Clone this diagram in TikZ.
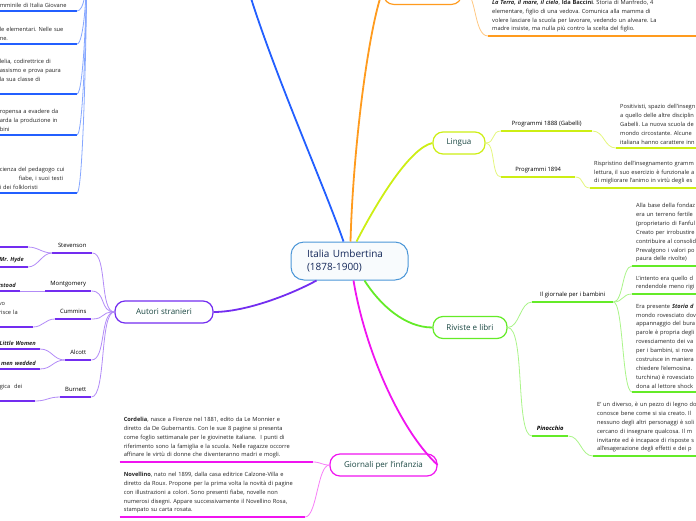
\documentclass[tikz,border=0pt]{standalone}
\usepackage{fontspec}
\setmainfont{Open Sans}
\usepackage{tikz}
\definecolor{mmblue}{RGB}{35,95,255}
\definecolor{mmorange}{RGB}{255,155,30}
\definecolor{mmlime}{RGB}{205,238,20}
\definecolor{mmgreen}{RGB}{100,235,40}
\definecolor{mmmagenta}{RGB}{240,20,240}
\definecolor{mmpurple}{RGB}{115,45,240}
\definecolor{mmcentral}{RGB}{75,150,215}
\definecolor{mmnavy}{RGB}{20,40,90}
\definecolor{mmteal}{RGB}{25,70,65}
\definecolor{mmgray}{RGB}{35,35,35}
\frenchspacing

\begin{document}
\begin{tikzpicture}[x=1pt, y=-1pt,
    central/.style={draw=mmcentral, fill=mmcentral!4, line width=1pt, rounded corners=13pt,
        minimum width=117pt, minimum height=38pt, inner xsep=16pt, text width=85pt, align=left,
        text=mmnavy, font=\fontsize{10}{13}\selectfont},
    topic/.style={draw=#1, line width=1.2pt, rounded corners=10pt, minimum height=22pt,
        text=mmteal, font=\fontsize{8}{10}\selectfont},
    branch/.style={draw=#1, line width=1.8pt},
    twig/.style={draw=#1!55, line width=0.8pt},
    lbl/.style={anchor=south west, inner xsep=2pt, inner ysep=4pt, text depth=1.2pt,
        font=\fontsize{5.9}{7}\selectfont, text=black,
        append after command={(\tikzlastnode.south west) edge[draw=#1, line width=1.6pt] (\tikzlastnode.south east)}},
    blk/.style={anchor=south west, inner xsep=4pt, inner ysep=3.5pt, align=left,
        font=\fontsize{5.7}{8.9}\selectfont, text=mmgray,
        append after command={(\tikzlastnode.south west) edge[draw=#1, line width=1.6pt] (\tikzlastnode.south east)}},
    cut/.style={blk=#1, anchor=south east},
]
    \useasboundingbox (0,0) rectangle (696,520);

    % central topic and main topics
    \node[central] (italia) at (349.5,261) {Italia Umbertina\\(1878-1900)};
    \node[topic=mmlime, minimum width=52pt] (lingua) at (459,143) {Lingua};
    \node[topic=mmgreen, minimum width=74pt] (riviste) at (470,327.5) {Riviste e libri};
    \node[topic=mmmagenta, minimum width=107pt] (giornali) at (383.5,465) {Giornali per l'infanzia};
    \node[topic=mmpurple, minimum width=98pt] (autori) at (164,312) {Autori stranieri};
    \node[topic=mmorange, minimum width=78pt, minimum height=30pt, anchor=south west] (storia) at (383,5) {};
    \coordinate (bluetopic) at (244,-25);
    \coordinate (bluesub) at (87,-40);

    % blue column, cut on the left
    \node[cut=mmblue, text width=73pt] (femminile) at (77,11) {mminile di Italia Giovane};
    \node[cut=mmblue, text width=73pt] (elementari) at (77,44) {le elementari. Nelle sue\\ne.};
    \node[cut=mmblue, text width=73pt] (codirettrice) at (77,94) {lelia, codirettrice di\\assismo e prova paura\\la sua classe di\\\mbox{}};
    \node[cut=mmblue, text width=73pt] (evadere) at (77,135) {ropensa a evadere da\\arda la produzione in\\bini};
    \node[cut=mmblue, text width=73pt] (folkloristi) at (77,193) {cienza del pedagogo cui\\\hspace*{19pt}fiabe, i suoi testi\\i dei folkloristi};

    % autori stranieri
    \node[lbl=mmpurple, minimum width=40pt] (stevenson) at (52,253) {Stevenson};
    \node[lbl=mmpurple, minimum width=46pt] (montgomery) at (45,291) {Montgomery};
    \node[lbl=mmpurple, minimum width=36pt] (cummins) at (55,319) {Cummins};
    \node[lbl=mmpurple, minimum width=26pt] (alcott) at (65,360) {Alcott};
    \node[lbl=mmpurple, minimum width=31pt] (burnett) at (60,397) {Burnett};
    \node[cut=mmpurple, text width=25pt] (jekyll) at (28,247) {};
    \node[cut=mmpurple, text width=25pt, align=right] (hyde) at (28,267) {\bfseries\itshape Mr. Hyde};
    \node[cut=mmpurple, text width=20pt, align=right] (misunderstood) at (20,291) {\bfseries\itshape rstood};
    \node[cut=mmpurple, text width=30pt] (cumtxt) at (33,327) {vo\\risce la\\\mbox{}};
    \node[cut=mmpurple, text width=46pt, align=right] (women) at (40,349) {\bfseries\itshape Little Women};
    \node[cut=mmpurple, text width=46pt, align=right] (wedded) at (40,369) {\bfseries\itshape men wedded};
    \node[cut=mmpurple, text width=31pt] (burtxt) at (35,401) {gica\ \ dei\\\mbox{}};

    % giornali per l'infanzia
    \node[cut=mmmagenta, text width=185pt] (cordelia) at (313,462) {\textbf{Cordelia}, nasce a Firenze nel 1881, edito da Le Monnier e\\diretto da De Gubernantis. Con le sue 8 pagine si presenta\\come foglio settimanale per le giovinette italiane.\ \ I punti di\\riferimento sono la famiglia e la scuola. Nelle ragazze occorre\\affinare le virtù di donne che diventeranno madri e mogli.};
    \node[cut=mmmagenta, text width=177pt] (novellino) at (305,517) {\textbf{Novellino}, nato nel 1899, dalla casa editrice Calzone-Villa e\\diretto da Roux. Propone per la prima volta la novità di pagine\\con illustrazioni a colori. Sono presenti fiabe, novelle non\\numerosi disegni. Appare successivamente il Novellino Rosa,\\stampato su carta rosata.};

    % storia (orange)
    \node[blk=mmorange, text width=205pt] (baccini) at (488,36) {\textbf{\textit{La Terra, il mare, il cielo}}, \textbf{Ida Baccini}. Storia di Manfredo, 4\\elementare, figlio di una vedova. Comunica alla mamma di\\volere lasciare la scuola per lavorare, vedendo un alveare. La\\madre insiste, ma nulla più contro la scelta del figlio.};

    % lingua
    \node[lbl=mmlime, minimum width=91pt] (gabelli) at (501,131) {Programmi 1888 (Gabelli)};
    \node[lbl=mmlime, minimum width=74pt] (prog94) at (501,177) {Programmi 1894};
    \node[blk=mmlime, text width=100pt] (positivisti) at (616,148) {Positivisti, spazio dell'insegn\\a quello delle altre disciplin\\Gabelli. La nuova scuola de\\mondo circostante. Alcune\\italiana hanno carattere inn};
    \node[blk=mmlime, text width=110pt] (rispristino) at (590,188) {Rispristino dell'insegnamento gramm\\lettura, il suo esercizio è funzionale a\\di migliorare l'animo in virtù degli es};

    % riviste e libri
    \node[lbl=mmgreen, minimum width=81pt] (giornale) at (532,302) {Il giornale per i bambini};
    \node[lbl=mmgreen, minimum width=36pt] (pinocchio) at (532,436) {\bfseries\itshape Pinocchio};
    \node[blk=mmgreen, text width=100pt] (fondazione) at (632,266) {Alla base della fondaz\\era un terreno fertile\\(proprietario di Fanful\\Creato per irrobustire\\contribuire al consolid\\Prevalgono i valori po\\paura delle rivolte)};
    \node[blk=mmgreen, text width=100pt] (intento) at (632,294) {L'intento era quello d\\rendendole meno rigi};
    \node[blk=mmgreen, text width=100pt] (rovesciato) at (632,392) {Era presente \textbf{\textit{Storia d}}\\mondo rovesciato dov\\appannaggio del bura\\parole è propria degli\\rovesciamento dei va\\per i bambini, si rove\\costruisce in maniera\\chiedere l'elemosina.\\turchina) è rovesciato\\dona al lettore shock};
    \node[blk=mmgreen, text width=110pt] (diverso) at (593,456) {E' un diverso, è un pezzo di legno do\\conosce bene come si sia creato. Il\\nessuno degli altri personaggi è soli\\cercano di insegnare qualcosa. Il m\\invitante ed è incapace di risposte s\\all'esagerazione degli effetti e dei p};

    % main branches
    \draw[branch=mmblue] ([xshift=-6pt]italia.north) .. controls (322,180) and (268,60) .. (bluetopic);
    \draw[branch=mmorange] ([xshift=1pt]italia.north) .. controls (353,150) and (368,30) .. (storia.west);
    \draw[branch=mmlime] ([xshift=7pt]italia.north) .. controls (378,200) and (410,148) .. (lingua.west);
    \draw[branch=mmgreen] ([xshift=15pt]italia.south) .. controls (380,305) and (405,327.5) .. (riviste.west);
    \draw[branch=mmmagenta] ([xshift=4pt]italia.south) .. controls (365,350) and (400,430) .. (giornali.east);
    \draw[branch=mmpurple] ([xshift=-33pt]italia.south) .. controls (290,295) and (245,312) .. (autori.east);

    % blue twigs
    \foreach \n in {femminile,elementari,codirettrice,evadere,folkloristi}
        \draw[twig=mmblue] (\n.south east) .. controls +(7,0) and +(0,30) .. (bluesub);

    % orange twig
    \draw[twig=mmorange] (storia.east) .. controls +(15,0) and +(-15,0) .. (baccini.south west);

    % lingua twigs
    \draw[twig=mmlime] (lingua.east) .. controls +(10,0) and +(-10,0) .. (gabelli.south west);
    \draw[twig=mmlime] (lingua.east) .. controls +(10,0) and +(-10,0) .. (prog94.south west);
    \draw[twig=mmlime] (gabelli.south east) .. controls +(12,0) and +(-12,0) .. (positivisti.south west);
    \draw[twig=mmlime] (prog94.south east) .. controls +(9,0) and +(-9,0) .. (rispristino.south west);

    % riviste twigs
    \draw[twig=mmgreen] (riviste.east) .. controls +(12,0) and +(-12,0) .. (giornale.south west);
    \draw[twig=mmgreen] (riviste.east) .. controls +(18,0) and +(-17,0) .. (pinocchio.south west);
    \foreach \n in {fondazione,intento,rovesciato}
        \draw[twig=mmgreen] (giornale.south east) .. controls +(10,0) and +(-10,0) .. (\n.south west);
    \draw[twig=mmgreen] (pinocchio.south east) .. controls +(12,0) and +(-12,0) .. (diverso.south west);

    % giornali twigs
    \draw[twig=mmmagenta] (giornali.west) .. controls +(-8,0) and +(8,0) .. (cordelia.south east);
    \draw[twig=mmmagenta] (giornali.west) .. controls +(-12,0) and +(12,0) .. (novellino.south east);

    % autori twigs
    \foreach \n in {stevenson,montgomery,cummins,alcott,burnett}
        \draw[twig=mmpurple] (autori.west) .. controls +(-15,0) and +(15,0) .. (\n.south east);
    \draw[twig=mmpurple] (stevenson.south west) .. controls +(-10,0) and +(10,0) .. (jekyll.south east);
    \draw[twig=mmpurple] (stevenson.south west) .. controls +(-10,0) and +(10,0) .. (hyde.south east);
    \draw[twig=mmpurple] (montgomery.south west) -- (misunderstood.south east);
    \draw[twig=mmpurple] (cummins.south west) .. controls +(-10,0) and +(10,0) .. (cumtxt.south east);
    \draw[twig=mmpurple] (alcott.south west) .. controls +(-12,0) and +(12,0) .. (women.south east);
    \draw[twig=mmpurple] (alcott.south west) .. controls +(-12,0) and +(12,0) .. (wedded.south east);
    \draw[twig=mmpurple] (burnett.south west) .. controls +(-12,0) and +(12,0) .. (burtxt.south east);
\end{tikzpicture}
\end{document}
